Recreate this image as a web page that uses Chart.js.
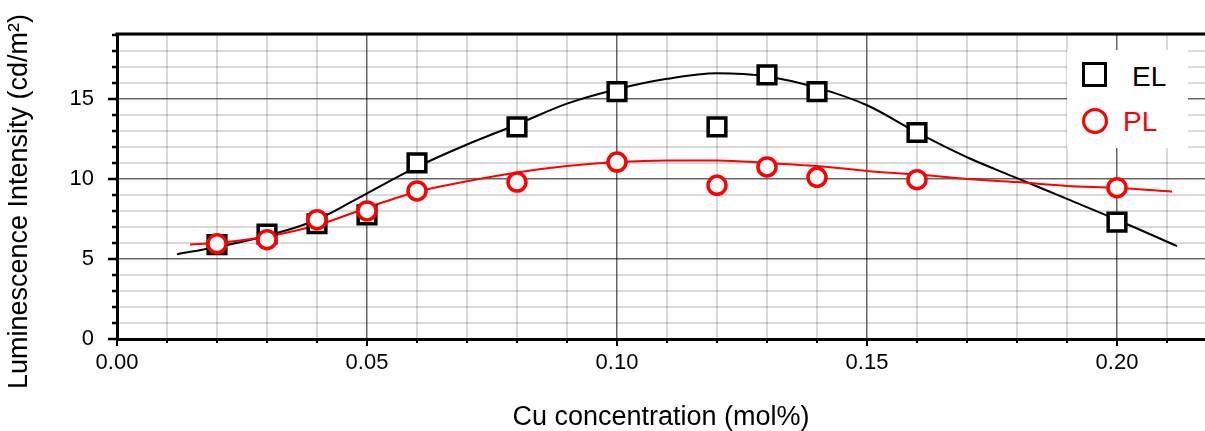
<!DOCTYPE html>
<html>
<head>
<meta charset="utf-8">
<script src="https://cdn.jsdelivr.net/npm/chart.js@4.4.1/dist/chart.umd.min.js"></script>
<style>
  html, body { margin: 0; padding: 0; background: #fff; overflow: hidden; }
  #wrap { position: relative; width: 1205px; height: 431px; }
  #legend {
    position: absolute; left: 1067px; top: 50px; width: 121px; height: 98px;
    background: #fff; font-family: 'Liberation Sans', Arial, sans-serif; font-size: 28px; line-height: 28px;
  }
  #legend .mk { position: absolute; box-sizing: border-box; }
  #legend .txt { position: absolute; }
</style>
</head>
<body>
<div id="wrap">
  <canvas id="chart"></canvas>
  <div id="legend">
    <div class="mk" style="left:15px; top:12px; width:25px; height:25px; border:3px solid #000;"></div>
    <div class="txt" style="left:65px; top:13px; color:#000;">EL</div>
    <div class="mk" style="left:15px; top:58px; width:26px; height:26px; border:3px solid #ff0000; border-radius:50%;"></div>
    <div class="txt" style="left:56px; top:58px; color:#ff0000;">PL</div>
  </div>
</div>
<script>
// Messpunkte
const conc = [0.02, 0.03, 0.04, 0.05, 0.06, 0.08, 0.10, 0.12, 0.13, 0.14, 0.16, 0.20];
const elValues = [5.9, 6.55, 7.2, 7.75, 11.0, 13.25, 15.45, 13.25, 16.5, 15.45, 12.9, 7.3];
const plValues = [5.95, 6.2, 7.45, 8.0, 9.25, 9.8, 11.05, 9.6, 10.75, 10.1, 9.95, 9.45];

// Fit-Kurven
const elFitX = [0.012, 0.02, 0.03, 0.04, 0.05, 0.06, 0.07, 0.08, 0.09, 0.10, 0.11, 0.12, 0.13, 0.14, 0.15, 0.16, 0.17, 0.18, 0.19, 0.20, 0.212];
const elFitY = [5.3, 5.75, 6.45, 7.45, 9.1, 10.75, 12.15, 13.4, 14.7, 15.6, 16.25, 16.6, 16.4, 15.7, 14.6, 12.9, 11.35, 10.05, 8.75, 7.45, 5.8];
const plFitX = [0.0146, 0.02, 0.03, 0.04, 0.05, 0.06, 0.07, 0.08, 0.09, 0.10, 0.11, 0.12, 0.13, 0.14, 0.15, 0.16, 0.17, 0.18, 0.19, 0.20, 0.211];
const plFitY = [5.9, 6.0, 6.4, 7.1, 8.2, 9.2, 9.85, 10.4, 10.8, 11.05, 11.15, 11.15, 11.0, 10.8, 10.5, 10.27, 10.0, 9.8, 9.56, 9.44, 9.2];

// Achsen-Ticks
const xTicks = [0, 0.01, 0.02, 0.03, 0.04, 0.05, 0.06, 0.07, 0.08, 0.09, 0.10, 0.11, 0.12, 0.13, 0.14, 0.15, 0.16, 0.17, 0.18, 0.19, 0.20, 0.21];
const yTicks = [0, 1, 2, 3, 4, 5, 6, 7, 8, 9, 10, 11, 12, 13, 14, 15, 16, 17, 18, 19];
const yTitle = 'Luminescence Intensity (cd/m²)';

const isMajorX = v => Math.round(v * 100) % 5 === 0;
const isMajorY = v => Math.round(v) % 5 === 0;
const toXY = (xs, ys) => xs.map((x, i) => ({ x: x, y: ys[i] }));

const fontFamily = "'Liberation Sans', Arial, sans-serif";

// Ticks nach aussen, obere Rahmenlinie, Y-Titel (etwas unter der Mitte)
const framePlugin = {
  id: 'frame',
  afterDraw(chart) {
    const { ctx, chartArea: a, scales: { x, y } } = chart;
    ctx.save();
    ctx.strokeStyle = '#000';
    ctx.lineWidth = 2;
    x.ticks.forEach(t => {
      const px = Math.round(x.getPixelForValue(t.value));
      ctx.beginPath();
      ctx.moveTo(px, a.bottom);
      ctx.lineTo(px, a.bottom + (isMajorX(t.value) ? 7 : 4));
      ctx.stroke();
    });
    ctx.lineWidth = 2.5;
    y.ticks.forEach(t => {
      const py = Math.round(y.getPixelForValue(t.value));
      ctx.beginPath();
      ctx.moveTo(a.left, py);
      ctx.lineTo(a.left - (isMajorY(t.value) ? 9 : 5), py);
      ctx.stroke();
    });
    ctx.lineWidth = 3;
    ctx.beginPath();
    ctx.moveTo(a.left - 1.5, a.top);
    ctx.lineTo(a.right, a.top);
    ctx.stroke();

    ctx.translate(20, (a.top + a.bottom) / 2 + 15);
    ctx.rotate(-Math.PI / 2);
    ctx.fillStyle = '#000';
    ctx.font = '27px ' + fontFamily;
    ctx.textAlign = 'center';
    ctx.textBaseline = 'middle';
    ctx.fillText(yTitle, 0, 0);
    ctx.restore();
  }
};

const font = { family: fontFamily };

new Chart(document.getElementById('chart'), {
  type: 'scatter',
  data: {
    datasets: [
      {
        label: 'PL',
        data: toXY(conc, plValues),
        pointStyle: 'circle',
        pointRadius: 9,
        borderColor: '#ff0000',
        backgroundColor: '#fff',
        borderWidth: 3.5,
        order: 0
      },
      {
        label: 'EL',
        data: toXY(conc, elValues),
        pointStyle: 'rect',
        pointRadius: 12.5,
        borderColor: '#000',
        backgroundColor: '#fff',
        borderWidth: 3.5,
        order: 1
      },
      {
        label: 'PL fit',
        data: toXY(plFitX, plFitY),
        showLine: true,
        pointRadius: 0,
        borderColor: '#ff0000',
        borderWidth: 2,
        cubicInterpolationMode: 'monotone',
        order: 2
      },
      {
        label: 'EL fit',
        data: toXY(elFitX, elFitY),
        showLine: true,
        pointRadius: 0,
        borderColor: '#000',
        borderWidth: 2,
        cubicInterpolationMode: 'monotone',
        order: 3
      }
    ]
  },
  options: {
    responsive: true,
    maintainAspectRatio: false,
    animation: false,
    layout: { autoPadding: false, padding: { top: 34, right: 0, left: 0, bottom: 0 } },
    plugins: { legend: { display: false }, tooltip: { enabled: false } },
    scales: {
      x: {
        type: 'linear',
        min: 0,
        max: 0.2176,
        afterBuildTicks: s => { s.ticks = xTicks.map(v => ({ value: v })); },
        afterFit: s => { s.height = 92; s.paddingLeft = 0; s.paddingRight = 0; },
        ticks: {
          autoSkip: false,
          maxRotation: 0,
          padding: 11,
          color: '#000',
          font: { ...font, size: 22 },
          callback: v => isMajorX(v) ? v.toFixed(2) : ''
        },
        grid: {
          drawTicks: false,
          color: c => isMajorX(c.tick.value) ? 'rgba(0,0,0,0.6)' : 'rgba(0,0,0,0.15)',
          lineWidth: c => isMajorX(c.tick.value) ? 1.5 : 2
        },
        border: { color: '#000', width: 3 },
        title: {
          display: true,
          text: 'Cu concentration (mol%)',
          color: '#000',
          font: { ...font, size: 27 },
          padding: { top: 0, bottom: -3 }
        }
      },
      y: {
        min: 0,
        max: 19.05,
        afterBuildTicks: s => { s.ticks = yTicks.map(v => ({ value: v })); },
        afterFit: s => { s.width = 117; s.paddingTop = 0; s.paddingBottom = 0; },
        ticks: {
          autoSkip: false,
          padding: 23,
          color: '#000',
          font: { ...font, size: 22 },
          callback: v => isMajorY(v) ? String(v) : ''
        },
        grid: {
          drawTicks: false,
          color: c => isMajorY(c.tick.value) ? 'rgba(0,0,0,0.6)' : 'rgba(0,0,0,0.15)',
          lineWidth: c => isMajorY(c.tick.value) ? 1.5 : 2
        },
        border: { color: '#000', width: 3 }
      }
    }
  },
  plugins: [framePlugin]
});
</script>
</body>
</html>
